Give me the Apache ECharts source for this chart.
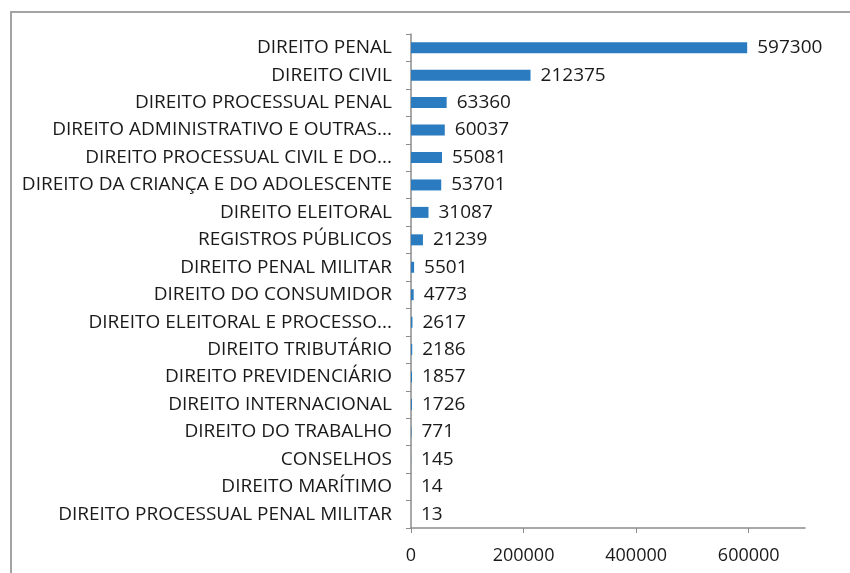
<!DOCTYPE html>
<html>
<head>
<meta charset="utf-8">
<script src="https://cdn.jsdelivr.net/npm/echarts@6/dist/echarts.min.js"></script>
<style>
  html, body { margin: 0; padding: 0; background: #fff; }
  #chart { width: 850px; height: 573px; }
</style>
</head>
<body>
<div id="chart"></div>
<script>
// categorias, de cima para baixo
var categorias = [
    'DIREITO PENAL',
    'DIREITO CIVIL',
    'DIREITO PROCESSUAL PENAL',
    'DIREITO ADMINISTRATIVO E OUTRAS...',
    'DIREITO PROCESSUAL CIVIL E DO...',
    'DIREITO DA CRIANÇA E DO ADOLESCENTE',
    'DIREITO ELEITORAL',
    'REGISTROS PÚBLICOS',
    'DIREITO PENAL MILITAR',
    'DIREITO DO CONSUMIDOR',
    'DIREITO ELEITORAL E PROCESSO...',
    'DIREITO TRIBUTÁRIO',
    'DIREITO PREVIDENCIÁRIO',
    'DIREITO INTERNACIONAL',
    'DIREITO DO TRABALHO',
    'CONSELHOS',
    'DIREITO MARÍTIMO',
    'DIREITO PROCESSUAL PENAL MILITAR'
];
var valores = [597300, 212375, 63360, 60037, 55081, 53701, 31087, 21239, 5501, 4773, 2617, 2186, 1857, 1726, 771, 145, 14, 13];
var ticksX = [0, 200000, 400000, 600000];

var myChart = echarts.init(document.getElementById('chart'));

var fonte = 'Open Sans';

var option = {
    animation: false,
    grid: { left: 411, right: 45, top: 34, bottom: 45 },
    graphic: [{
        type: 'rect',
        shape: { x: 11, y: 12, width: 900, height: 700 },
        style: { fill: 'none', stroke: '#a3a3a3', lineWidth: 2 }
    }],
    xAxis: {
        type: 'value',
        min: 0,
        max: 700000,
        interval: 100000,
        splitLine: { show: false },
        axisLine: { show: true, lineStyle: { color: '#8c8c8c', width: 1.5 } },
        axisTick: { show: true, length: 5, customValues: ticksX, lineStyle: { color: '#8c8c8c' } },
        axisLabel: {
            customValues: ticksX,
            margin: 19,
            color: '#1a1a1a',
            fontFamily: fonte,
            fontSize: 18,
            formatter: function (v) { return String(v); }
        }
    },
    yAxis: {
        type: 'category',
        inverse: true,
        data: categorias,
        axisLine: { show: true, lineStyle: { color: '#8c8c8c', width: 1.5 } },
        axisTick: { show: true, length: 5, lineStyle: { color: '#8c8c8c' } },
        axisLabel: {
            margin: 19,
            color: '#1a1a1a',
            fontFamily: fonte,
            fontSize: 19
        }
    },
    series: [{
        type: 'bar',
        data: valores,
        barWidth: 11,
        itemStyle: { color: '#2b7bc0' },
        label: {
            show: true,
            position: 'right',
            distance: 10,
            color: '#1a1a1a',
            fontFamily: fonte,
            fontSize: 19,
            formatter: function (p) { return String(p.value); }
        }
    }]
};

myChart.setOption(option);
</script>
</body>
</html>
